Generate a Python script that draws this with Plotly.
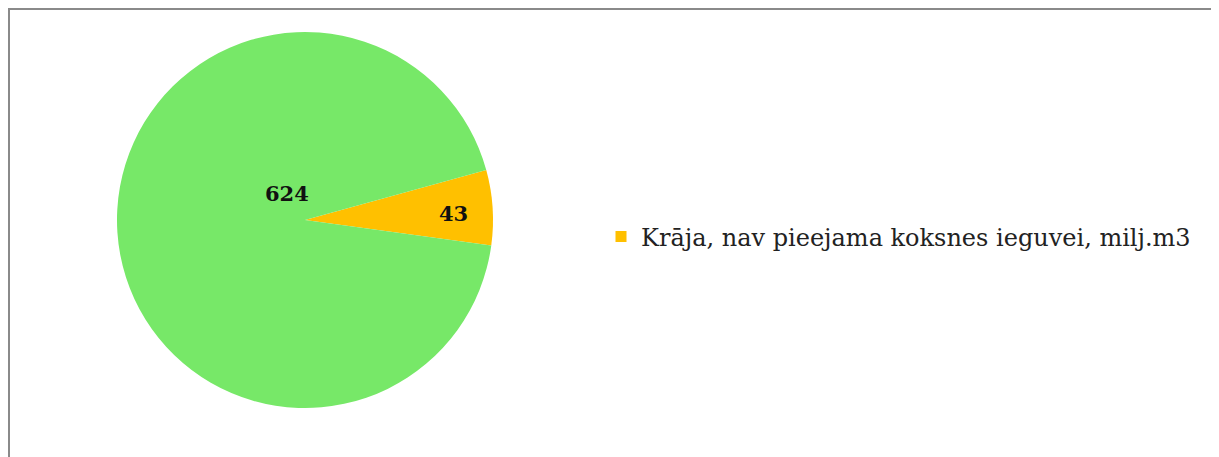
import plotly.graph_objects as go

labels = ["Pieejama koksnes ieguvei", "Krāja, nav pieejama koksnes ieguvei, milj.m3"]
values = [624, 43]
colors = ["#77E868", "#FFC000"]
legend_label = labels[1]

# figure is drawn inside the page body (8px margin), so size it to the visible area
W, H = 1211, 449
cx, cy, r = 297, 212, 188

fig = go.Figure()
fig.add_trace(go.Pie(
    labels=labels[::-1], values=values[::-1],
    marker=dict(colors=colors[::-1], line=dict(width=0)),
    sort=False, direction="clockwise", rotation=74.6,
    textinfo="none", hoverinfo="label+value",
    showlegend=False,
    domain=dict(x=[(cx - r) / W, (cx + r) / W], y=[(H - cy - r) / H, (H - cy + r) / H]),
))
fig.add_trace(go.Scatter(
    x=[None], y=[None], mode="markers", name=legend_label,
    marker=dict(symbol="square", size=11, color=colors[1]),
))

label_pos = [(279, 185), (445, 205)]
for v, (px, py) in zip(values, label_pos):
    fig.add_annotation(x=px / W, y=1 - py / H, xref="paper", yref="paper",
                       xanchor="center", yanchor="middle",
                       text=f"<b>{v}</b>", showarrow=False,
                       font=dict(family="DejaVu Serif", size=21, color="#111"))

fig.add_shape(type="rect", xref="paper", yref="paper",
              x0=1 / W, x1=1206 / W, y0=-0.05, y1=1 - 1 / H,
              line=dict(color="#8a8a8a", width=2), fillcolor="rgba(0,0,0,0)")

fig.update_layout(
    width=W, height=H,
    margin=dict(l=0, r=0, t=0, b=0),
    paper_bgcolor="white", plot_bgcolor="white",
    xaxis=dict(visible=False), yaxis=dict(visible=False),
    showlegend=True,
    legend=dict(x=593 / W, y=1 - 229 / H, xanchor="left", yanchor="middle",
                font=dict(family="DejaVu Serif", size=24, color="#222"),
                bgcolor="rgba(0,0,0,0)", itemwidth=30),
)
fig.write_html("out.html")
